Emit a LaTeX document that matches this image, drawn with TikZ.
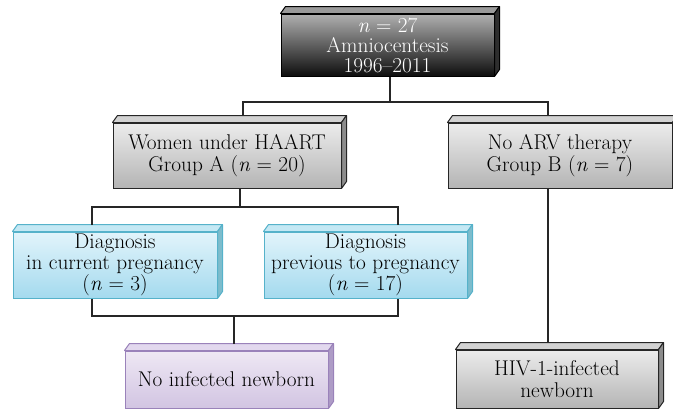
\documentclass[tikz,border=0pt]{standalone}
\usepackage{fontspec}
\usetikzlibrary{calc}
\definecolor{gTop}{HTML}{ECECEC}
\definecolor{gBot}{HTML}{B4B4B4}
\definecolor{gFace}{HTML}{D2D2D2}
\definecolor{gSide}{HTML}{8C8C8C}
\definecolor{kTop}{HTML}{B0B0B0}
\definecolor{kBot}{HTML}{0E0E0E}
\definecolor{kFace}{HTML}{9A9A9A}
\definecolor{kSide}{HTML}{2E2E2E}
\definecolor{bTop}{HTML}{E2F4FB}
\definecolor{bBot}{HTML}{A4DAEE}
\definecolor{bFace}{HTML}{C4E8F4}
\definecolor{bSide}{HTML}{7DBCCC}
\definecolor{bLine}{HTML}{56B2CA}
\definecolor{pTop}{HTML}{EEE8F4}
\definecolor{pBot}{HTML}{D2C4E2}
\definecolor{pFace}{HTML}{E2D8EE}
\definecolor{pSide}{HTML}{AE9CC6}
\definecolor{pLine}{HTML}{9A82BA}
\newcommand{\bevelfaces}[4]{%
  \draw[#4, line width=1pt, line join=round, fill=#2] (#1.north west) -- ++(5,-7) -- ($(#1.north east)+(5,-7)$) -- (#1.north east) -- cycle;
  \draw[#4, line width=1pt, line join=round, fill=#3] (#1.north east) -- ++(5,-7) -- ($(#1.south east)+(5,-7)$) -- (#1.south east) -- cycle;}
\begin{document}
\begin{tikzpicture}[x=1pt,y=-1pt,
  boxbase/.style={inner sep=0pt, align=center, line width=1pt,
    font=\fontsize{21.3}{22.5}\selectfont},
  darkbox/.style={boxbase, draw=black, top color=kTop, bottom color=kBot, text=white,
    font=\fontsize{21.3}{20}\selectfont},
  graybox/.style={boxbase, draw=black!85, top color=gTop, bottom color=gBot},
  bluebox/.style={boxbase, draw=bLine, top color=bTop, bottom color=bBot,
    font=\fontsize{21.3}{21}\selectfont},
  purplebox/.style={boxbase, draw=pLine, top color=pTop, bottom color=pBot},
  conn/.style={draw=black!85, line width=1.1pt}]
\clip (0,0) rectangle (673,410);
\fill[white] (0,0) rectangle (673,410);

% boxes
\node[darkbox, minimum width=213pt, minimum height=62pt] (top) at (387.5,45)
  {\textit{n} = 27\\Amniocentesis\\1996–2011};
\bevelfaces{top}{kFace}{kSide}{black}

\node[graybox, minimum width=228pt, minimum height=65pt] (A) at (227,155.5)
  {Women under HAART\\Group A (\textit{n} = 20)};
\bevelfaces{A}{gFace}{gSide}{black!85}

\node[graybox, minimum width=224pt, minimum height=65pt] (B) at (560,155.5)
  {No ARV therapy\\Group B (\textit{n} = 7)};
\bevelfaces{B}{gFace}{gSide}{black!85}

\node[bluebox, minimum width=204pt, minimum height=66pt] (Dc) at (115,265)
  {Diagnosis\\in current pregnancy\\(\textit{n} = 3)};
\bevelfaces{Dc}{bFace}{bSide}{bLine}

\node[bluebox, minimum width=203pt, minimum height=66pt] (Dp) at (365.5,265)
  {Diagnosis\\previous to pregnancy\\(\textit{n} = 17)};
\bevelfaces{Dp}{bFace}{bSide}{bLine}

\node[purplebox, minimum width=203pt, minimum height=57pt] (N) at (226.5,379.5)
  {No infected newborn};
\bevelfaces{N}{pFace}{pSide}{pLine}

\node[graybox, minimum width=202pt, minimum height=58pt] (H) at (557,379)
  {HIV-1-infected\\newborn};
\bevelfaces{H}{gFace}{gSide}{black!85}

% connectors
\coordinate (j1) at (390,102);
\coordinate (j2) at (240,207);
\coordinate (j3) at (234,316);
\draw[conn] (top.south -| j1) -- (j1);
\draw[conn] ($(A.north)+(16,-7)$) |- (j1) -| ($(B.north)+(-12,-7)$);
\draw[conn] (A.south -| j2) -- (j2);
\draw[conn] ($(Dc.north)+(-23,-7)$) |- (j2) -| ($(Dp.north)+(32.5,-7)$);
\draw[conn] ($(Dc.south)+(-23,0)$) |- (j3) -| ($(Dp.south)+(32.5,0)$);
\draw[conn] (j3) -- ($(N.north)+(7.5,-7)$);
\draw[conn] ($(B.south)+(-12,0)$) -- ($(H.north)+(-9,-7)$);
\end{tikzpicture}
\end{document}
